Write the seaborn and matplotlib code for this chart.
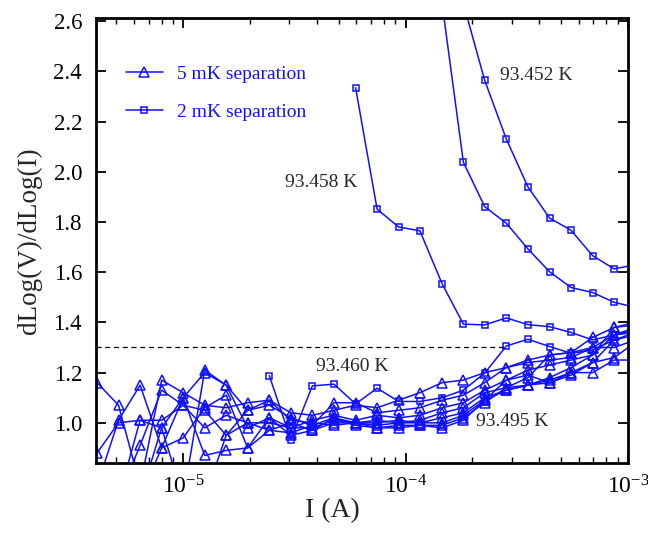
import numpy as np
import matplotlib
matplotlib.use("Agg")
import matplotlib.pyplot as plt
import seaborn as sns

sns.set_theme(style="ticks")
plt.rcParams['font.family'] = ['Liberation Serif', 'DejaVu Serif']
plt.rcParams['mathtext.fontset'] = 'custom'
plt.rcParams['mathtext.rm'] = 'Liberation Serif'
plt.rcParams['mathtext.it'] = 'Liberation Serif:italic'

BLUE = '#1010ff'

# current steps (A), shared by every curve
current = [4.10e-6, 5.12e-6, 6.40e-6, 8.00e-6, 1.00e-5, 1.25e-5, 1.56e-5, 1.95e-5,
           2.44e-5, 3.05e-5, 3.81e-5, 4.77e-5, 5.96e-5, 7.45e-5, 9.31e-5, 1.16e-4,
           1.46e-4, 1.82e-4, 2.27e-4, 2.84e-4, 3.55e-4, 4.44e-4, 5.55e-4, 6.94e-4,
           8.67e-4, 1.08e-3]

# 5 mK separation curves (triangles), 93.460 K ... 93.495 K
tri_1 = [1.16, 1.07, 0.75, 1.17, 1.12, 1.07, 1.06, 1.08, 1.09, 1.04, 1.03, 1.05, 1.07,
         1.06, 1.09, 1.12, 1.16, 1.17, 1.20, 1.22, 1.25, 1.27, 1.28, 1.34, 1.38, 1.39]
tri_2 = [0.88, 1.00, 1.01, 0.98, 1.10, 1.20, 1.15, 1.05, 1.07, 1.02, 0.99, 1.08, 1.08,
         1.04, 1.05, 1.06, 1.09, 1.11, 1.16, 1.22, 1.24, 1.25, 1.26, 1.30, 1.35, 1.36]
tri_3 = [0.75, 1.01, 1.15, 0.90, 0.94, 1.06, 1.11, 0.90, 1.02, 0.98, 1.01, 1.03, 1.01,
         1.03, 1.02, 1.03, 1.06, 1.08, 1.13, 1.17, 1.21, 1.23, 1.25, 1.27, 1.38, 1.40]
tri_4 = [0.80, 0.70, 0.91, 1.13, 1.07, 0.98, 1.03, 1.00, 0.97, 1.00, 0.97, 1.00, 1.00,
         1.01, 1.00, 1.01, 1.04, 1.06, 1.12, 1.14, 1.18, 1.27, 1.28, 1.30, 1.30, 1.33]
tri_5 = [0.70, 0.70, 1.01, 1.01, 1.07, 1.05, 0.95, 1.05, 1.09, 1.01, 1.00, 0.99, 1.00,
         1.00, 1.01, 1.00, 1.02, 1.04, 1.10, 1.13, 1.15, 1.18, 1.22, 1.27, 1.35, 1.38]
tri_6 = [0.70, 0.70, 0.70, 0.90, 1.10, 0.87, 0.89, 0.90, 0.97, 0.96, 0.99, 1.02, 1.00,
         0.99, 1.00, 1.00, 1.00, 1.03, 1.09, 1.17, 1.19, 1.16, 1.19, 1.24, 1.33, 1.35]
tri_7 = [0.70, 0.70, 0.70, 0.98, 0.70, 1.21, 1.15, 0.98, 1.02, 0.95, 0.97, 1.02, 0.99,
         0.98, 0.99, 0.99, 0.99, 1.02, 1.08, 1.14, 1.15, 1.17, 1.20, 1.20, 1.25, 1.25]
tri_8 = [0.70, 0.70, 0.70, 0.70, 0.70, 0.70, 0.95, 1.00, 1.00, 0.98, 0.98, 1.01, 1.00,
         0.98, 0.98, 0.99, 0.98, 1.01, 1.09, 1.13, 1.15, 1.16, 1.20, 1.24, 1.26, 1.32]

# 2 mK separation curves (squares); each list runs to the last current step
sq_452 = [2.67, 2.364, 2.130, 1.940, 1.816, 1.767, 1.666, 1.613, 1.63]
sq_454 = [2.67, 2.038, 1.861, 1.795, 1.693, 1.602, 1.539, 1.519, 1.480, 1.46]
sq_458 = [2.335, 1.851, 1.780, 1.765, 1.554, 1.393, 1.390, 1.418, 1.391, 1.383,
          1.360, 1.33, 1.35, 1.37]
sq_460 = [1.188, 0.932, 1.147, 1.154, 1.075, 1.138, 1.085, 1.085, 1.10, 1.13, 1.198,
          1.306, 1.333, 1.304, 1.277, 1.29, 1.33, 1.36]

tri_curves = [tri_1, tri_2, tri_3, tri_4, tri_5, tri_6, tri_7, tri_8]
sq_curves = [sq_452, sq_454, sq_458, sq_460]

dash_level = 1.303
dash_end = 2.84e-4

fig = plt.figure(figsize=(6.48, 5.34), dpi=100)
ax = fig.add_axes([0.148, 0.133, 0.821, 0.833])

for i, vals in enumerate(tri_curves):
    sns.lineplot(x=current, y=vals, ax=ax, color=BLUE, linewidth=1.1,
                 marker='^', markersize=6.5, markerfacecolor='none',
                 markeredgecolor=BLUE, markeredgewidth=1.1, sort=False,
                 label='5 mK separation' if i == 0 else None, legend=False)

for i, vals in enumerate(sq_curves):
    xs = current[len(current) - len(vals):]
    sns.lineplot(x=xs, y=vals, ax=ax, color=BLUE, linewidth=1.1,
                 marker='s', markersize=5, markerfacecolor='none',
                 markeredgecolor=BLUE, markeredgewidth=1.1, sort=False,
                 label='2 mK separation' if i == 0 else None, legend=False)

ax.hlines(dash_level, 4.05e-6, dash_end, colors='black', linestyles=(0, (4, 3)), linewidth=0.9)

ax.set_xscale('log')
ax.set_xlim(4.05e-6, 1e-3)
ax.set_ylim(0.84, 2.612)
ax.set_yticks([1.0, 1.2, 1.4, 1.6, 1.8, 2.0, 2.2, 2.4, 2.6])
ax.yaxis.set_major_formatter(matplotlib.ticker.FormatStrFormatter('%.1f'))

for s in ax.spines.values():
    s.set_linewidth(2.0)
    s.set_color('black')
ax.tick_params(which='both', direction='in', top=True, right=True, colors='black')
ax.tick_params(which='major', length=7, width=1.3)
ax.tick_params(which='minor', length=4, width=1.0)
ax.tick_params(axis='y', labelsize=16.5, pad=10)
ax.tick_params(axis='x', labelsize=17, pad=9)

ax.set_xlabel('I (A)', fontsize=20)
ax.xaxis.set_label_coords(0.445, -0.08)
ax.set_ylabel('dLog(V)/dLog(I)', fontsize=19.5, labelpad=8)

ax.text(2.66e-4, 2.385, '93.452 K', fontsize=14, ha='left', va='center')
ax.text(2.86e-5, 1.959, '93.458 K', fontsize=14, ha='left', va='center')
ax.text(3.94e-5, 1.223, '93.460 K', fontsize=14, ha='left', va='center')
ax.text(2.08e-4, 1.004, '93.495 K', fontsize=14, ha='left', va='center')

ax.legend(loc='upper left', bbox_to_anchor=(0.023, 0.933), frameon=False,
          fontsize=14, labelcolor=BLUE, handlelength=1.9, handletextpad=0.75,
          labelspacing=1.05)

fig.savefig('out.png', dpi=100)
